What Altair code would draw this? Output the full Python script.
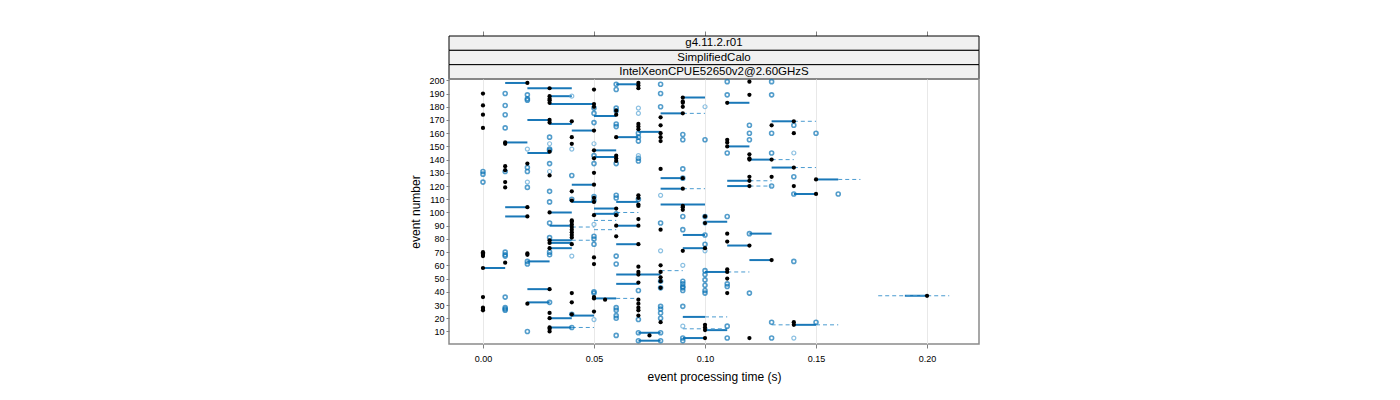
import altair as alt
import pandas as pd

# ---- values (time in s -> list of event numbers) ----
black_points = {
    0.00: [190, 181, 174, 164, 70, 69, 68, 67, 58, 36, 28, 27, 26],
    0.01: [153, 152, 135, 132, 123, 119, 62],
    0.02: [198, 137, 104, 97, 69, 68, 31],
    0.03: [194, 188, 186, 185, 183, 170, 168, 146, 128, 100, 79, 77, 73, 42, 24, 20, 13, 12, 10],
    0.04: [169, 157, 152, 116, 109, 94, 93, 91, 89, 87, 85, 83, 81, 76, 39, 32, 23],
    0.05: [193, 182, 180, 162, 147, 141, 130, 121, 111, 108, 98, 66, 61, 36, 35, 25],
    0.055: [34],
    0.06: [177, 174, 157, 143, 141, 139, 103, 98, 90, 82],
    0.07: [198, 196, 194, 167, 165, 163, 113, 111, 106, 105, 95, 90, 76, 59, 55, 53, 47, 34, 31, 28, 26, 22],
    0.075: [7],
    0.08: [172, 166, 160, 157, 154, 133, 87, 60, 55, 51, 48, 43, 17],
    0.09: [187, 184, 183, 180, 175, 126, 118, 105, 104, 102, 71],
    0.10: [97, 92, 73, 15, 13, 11, 5],
    0.11: [183, 155, 153, 150, 84, 78, 57, 55, 50, 39],
    0.12: [199, 189, 144, 141, 140, 127, 124, 120, 75, 5],
    0.13: [166, 140, 127, 64],
    0.14: [169, 160, 134, 120, 17, 15],
    0.15: [125, 114],
    0.20: [37],
}

blue_points = {
    0.00: [131, 129, 123],
    0.01: [190, 181, 174, 164, 131, 70, 68, 67, 36, 28, 27, 26],
    0.02: [189, 186, 185, 134, 131, 119, 63, 61, 10],
    0.03: [157, 148, 147, 137, 116, 108, 92, 81, 70, 68, 32],
    0.04: [128, 110, 23, 13],
    0.05: [179, 175, 168, 143, 137, 112, 109, 82, 80, 76, 40, 39],
    0.06: [197, 193, 179, 177, 167, 165, 137, 113, 111, 99, 67, 61, 28, 26, 22, 20, 7],
    0.07: [160, 157, 154, 141, 139, 110, 41, 19, 9, 3],
    0.08: [197, 190, 180, 92, 48, 43, 29, 27, 24, 20, 9, 3],
    0.09: [159, 155, 133, 126, 97, 87, 48, 46, 44, 43, 41, 29, 5, 3],
    0.10: [155, 97, 83, 76, 56, 53, 49, 45, 41, 39],
    0.11: [199, 189, 145, 97, 46, 44, 14, 5],
    0.12: [166, 160, 155, 84, 39],
    0.13: [199, 189, 160, 145, 120, 17, 5],
    0.14: [166, 127, 114, 63],
    0.15: [160, 17],
    0.16: [114],
}

pale_points = {
    0.02: [148, 123],
    0.03: [152, 131],
    0.04: [188, 148, 67],
    0.05: [152, 91, 19],
    0.07: [179, 175, 143],
    0.08: [113, 71],
    0.09: [60, 14],
    0.10: [180, 92, 71],
    0.14: [145, 5],
}

# (start time, end time, event)
solid_segments = [
    (0.00, 0.01, 58), (0.01, 0.02, 153), (0.01, 0.02, 198), (0.01, 0.02, 104), (0.01, 0.02, 97),
    (0.02, 0.03, 170), (0.02, 0.03, 145), (0.02, 0.03, 63), (0.02, 0.03, 42), (0.02, 0.03, 32),
    (0.02, 0.04, 194), (0.03, 0.04, 188), (0.03, 0.05, 182), (0.03, 0.04, 167), (0.03, 0.04, 100),
    (0.03, 0.04, 90), (0.03, 0.04, 79), (0.03, 0.04, 77), (0.03, 0.04, 73), (0.03, 0.04, 20),
    (0.03, 0.04, 13), (0.04, 0.05, 162), (0.04, 0.05, 121), (0.04, 0.05, 108), (0.04, 0.05, 22),
    (0.05, 0.06, 173), (0.05, 0.06, 147), (0.05, 0.06, 142), (0.05, 0.06, 103), (0.05, 0.06, 99),
    (0.05, 0.06, 35), (0.06, 0.07, 197), (0.06, 0.07, 157), (0.06, 0.07, 108), (0.06, 0.07, 90),
    (0.06, 0.07, 76), (0.06, 0.07, 46), (0.06, 0.08, 53), (0.07, 0.08, 161), (0.07, 0.08, 9),
    (0.07, 0.08, 3), (0.08, 0.09, 126), (0.08, 0.09, 118), (0.08, 0.10, 106), (0.08, 0.09, 175),
    (0.09, 0.10, 187), (0.09, 0.10, 83), (0.09, 0.10, 73), (0.09, 0.10, 21), (0.09, 0.10, 5),
    (0.10, 0.11, 93), (0.10, 0.11, 55), (0.10, 0.11, 11), (0.11, 0.12, 183), (0.11, 0.12, 150),
    (0.11, 0.12, 124), (0.11, 0.12, 120), (0.11, 0.12, 75), (0.12, 0.13, 140), (0.12, 0.13, 84),
    (0.12, 0.13, 64), (0.13, 0.14, 169), (0.13, 0.14, 134), (0.14, 0.15, 114), (0.14, 0.15, 15),
    (0.15, 0.16, 125), (0.19, 0.20, 37),
]

dashed_segments = [
    (0.04, 0.05, 79), (0.04, 0.05, 13), (0.04, 0.05, 89), (0.05, 0.06, 94), (0.05, 0.06, 87),
    (0.06, 0.07, 100), (0.06, 0.07, 35), (0.08, 0.09, 56), (0.09, 0.10, 175), (0.09, 0.10, 118),
    (0.10, 0.11, 21), (0.09, 0.11, 12), (0.11, 0.12, 55), (0.12, 0.13, 124), (0.12, 0.13, 120),
    (0.13, 0.14, 140), (0.13, 0.14, 15), (0.14, 0.15, 169), (0.14, 0.15, 134), (0.15, 0.16, 15),
    (0.16, 0.17, 125), (0.178, 0.21, 37),
]

strip_labels = ["g4.11.2.r01", "SimplifiedCalo", "IntelXeonCPUE52650v2@2.60GHzS"]
x_ticks = [0.00, 0.05, 0.10, 0.15, 0.20]
y_ticks = list(range(10, 201, 10))
x_domain = [-0.0153, 0.2234]
y_domain = [0.5, 201]

FONT = "Liberation Sans"
W, H = 530, 265


def pts(d):
    return pd.DataFrame([{"t": t, "event": e} for t, evs in d.items() for e in evs])


def segs(lst):
    return pd.DataFrame([{"t1": a, "t2": b, "event": e} for a, b, e in lst])


xs = alt.Scale(domain=x_domain, nice=False, zero=False)
ys = alt.Scale(domain=y_domain, nice=False, zero=False)

x_axis = alt.Axis(values=x_ticks, format=".2f", title="event processing time (s)",
                  grid=True, gridColor="#e8e8e8", domain=False, tickColor="#808080",
                  tickSize=4, labelFontSize=9, labelPadding=6, titleFontSize=12,
                  titleFontWeight="normal", titlePadding=8, labelFont=FONT, titleFont=FONT,
                  labelColor="#000000", titleColor="#000000")
y_axis = alt.Axis(values=y_ticks, title="event number", grid=False, domain=False,
                  tickColor="#808080", tickSize=3, labelFontSize=9, labelPadding=2,
                  labelOverlap=False, labelFlush=False, labelBound=False,
                  titleFontSize=12, titleFontWeight="normal", titlePadding=6,
                  labelFont=FONT, titleFont=FONT, labelColor="#000000", titleColor="#000000")


def X(field):
    return alt.X(field, scale=xs, axis=x_axis)


def Y(field):
    return alt.Y(field, scale=ys, axis=y_axis)


solid = alt.Chart(segs(solid_segments)).mark_rule(color="#1a78b8", strokeWidth=2).encode(
    x=X("t1:Q"), x2="t2:Q", y=Y("event:Q"))
dashed = alt.Chart(segs(dashed_segments)).mark_rule(
    color="#4a9bd0", strokeWidth=1, strokeDash=[4, 3]).encode(
    x=X("t1:Q"), x2="t2:Q", y=Y("event:Q"))
blue = alt.Chart(pts(blue_points)).mark_point(
    shape="circle", filled=False, color="#0b74b6", size=16, strokeWidth=1.6).encode(
    x=X("t:Q"), y=Y("event:Q"))
pale = alt.Chart(pts(pale_points)).mark_point(
    shape="circle", filled=False, color="#5aa6d6", size=16, strokeWidth=1.2).encode(
    x=X("t:Q"), y=Y("event:Q"))
black = alt.Chart(pts(black_points)).mark_circle(color="#000000", size=18, opacity=1).encode(
    x=X("t:Q"), y=Y("event:Q"))

main = alt.layer(solid, dashed, blue, pale, black).properties(
    width=W, height=H,
    view=alt.ViewBackground(stroke="#8a8a8a", strokeWidth=1.5))

strip_df = pd.DataFrame({"label": strip_labels, "row": list(range(len(strip_labels)))})
top_axis = alt.Axis(orient="top", values=x_ticks, labels=False, title=None, grid=False,
                    domain=False, tickColor="#808080", tickSize=5)
strip_rect = alt.Chart(strip_df).mark_rect(fill="#f0f0f0", stroke="#000000", strokeWidth=1).encode(
    x=alt.X(datum=x_domain[0], type="quantitative", scale=xs, axis=top_axis),
    x2=alt.X2(datum=x_domain[1]),
    y=alt.Y("row:O", axis=None, scale=alt.Scale(paddingInner=0, paddingOuter=0)))
strip_text = alt.Chart(strip_df).mark_text(font=FONT, fontSize=11.5, color="#000000").encode(
    x=alt.value(W / 2),
    y=alt.Y("row:O", axis=None, scale=alt.Scale(paddingInner=0, paddingOuter=0)),
    text="label:N")
strips = alt.layer(strip_rect, strip_text).properties(
    width=W, height=43, view=alt.ViewBackground(strokeWidth=0))

chart = alt.vconcat(strips, main, spacing=0, bounds="flush").resolve_scale(
    x="independent").properties(
    padding={"left": 409, "top": 30, "right": 5, "bottom": 5},
    background="#ffffff").configure_axisY(labelOverlap=False)

chart.save("out.html", embed_options={"renderer": "svg", "actions": False})
